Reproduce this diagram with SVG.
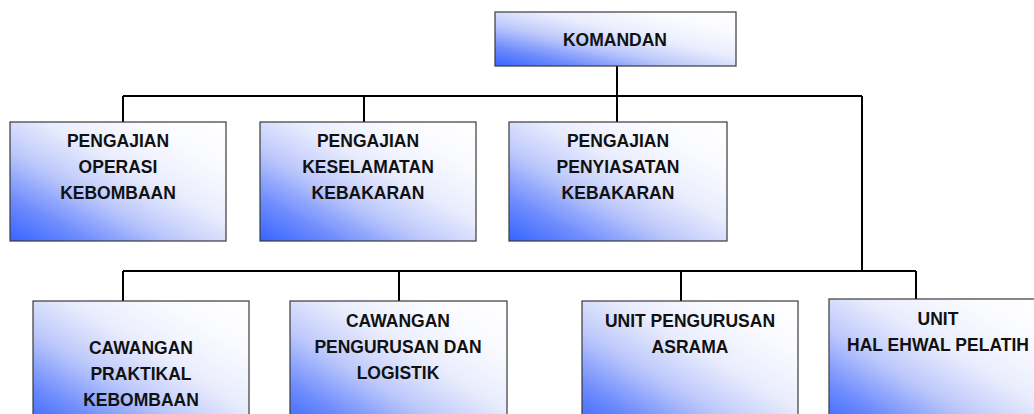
<svg xmlns="http://www.w3.org/2000/svg" width="1034" height="414" viewBox="0 0 1034 414">
<defs>
<linearGradient id="g" x1="0" y1="1" x2="1" y2="0">
<stop offset="0" stop-color="#3564ff"/>
<stop offset="0.18" stop-color="#6f8cfd"/>
<stop offset="0.38" stop-color="#bcc8fb"/>
<stop offset="0.58" stop-color="#e9ecfd"/>
<stop offset="0.8" stop-color="#fafbff"/>
<stop offset="1" stop-color="#ffffff"/>
</linearGradient>
</defs>
<style>
.box{fill:url(#g);stroke:#3a3a3a;stroke-width:1.2}
.t{font-family:"Liberation Sans",Arial,sans-serif;font-weight:bold;font-size:17.5px;fill:#111;text-anchor:middle}
.c{fill:none;stroke:#000;stroke-width:2}
</style>
<rect width="1034" height="414" fill="#fff"/>
<g id="connectors">
<path class="c" d="M617 66V122M123 96H862M123 96V122M364 96V122M862 96V271M123 271H916M123 271V301M399 271V301M681 271V301M916 271V299"/>
</g>
<g id="komandan">
<rect class="box" x="495" y="12" width="241" height="54"/>
<text class="t" x="615" y="46">KOMANDAN</text>
</g>
<g id="pengajian-operasi">
<rect class="box" x="10" y="122" width="216" height="119"/>
<text class="t" x="118" y="147">PENGAJIAN</text>
<text class="t" x="118" y="173">OPERASI</text>
<text class="t" x="118" y="199">KEBOMBAAN</text>
</g>
<g id="pengajian-keselamatan">
<rect class="box" x="260" y="122" width="216" height="119"/>
<text class="t" x="368" y="147">PENGAJIAN</text>
<text class="t" x="368" y="173">KESELAMATAN</text>
<text class="t" x="368" y="199">KEBAKARAN</text>
</g>
<g id="pengajian-penyiasatan">
<rect class="box" x="509" y="122" width="218" height="119"/>
<text class="t" x="618" y="147">PENGAJIAN</text>
<text class="t" x="618" y="173">PENYIASATAN</text>
<text class="t" x="618" y="199">KEBAKARAN</text>
</g>
<g id="cawangan-praktikal">
<rect class="box" x="33" y="301" width="216" height="130"/>
<text class="t" x="141" y="354">CAWANGAN</text>
<text class="t" x="141" y="380">PRAKTIKAL</text>
<text class="t" x="141" y="406">KEBOMBAAN</text>
</g>
<g id="cawangan-pengurusan">
<rect class="box" x="290" y="301" width="217" height="130"/>
<text class="t" x="398" y="327">CAWANGAN</text>
<text class="t" x="398" y="353">PENGURUSAN DAN</text>
<text class="t" x="398" y="379">LOGISTIK</text>
</g>
<g id="unit-asrama">
<rect class="box" x="582" y="301" width="216" height="130"/>
<text class="t" x="690" y="327">UNIT PENGURUSAN</text>
<text class="t" x="690" y="353">ASRAMA</text>
</g>
<g id="unit-pelatih">
<rect class="box" x="829" y="299" width="218" height="132"/>
<text class="t" x="938" y="325">UNIT</text>
<text class="t" x="938" y="351">HAL EHWAL PELATIH</text>
</g>
</svg>
